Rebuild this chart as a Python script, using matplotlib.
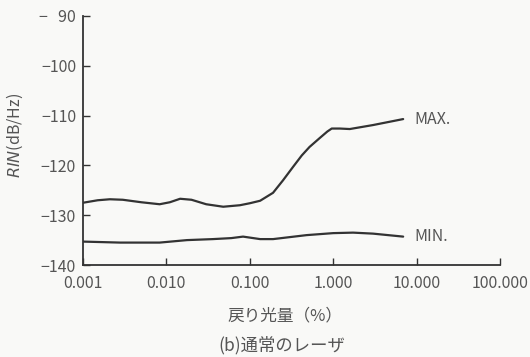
import matplotlib.pyplot as plt
import numpy as np

plt.rcParams['font.family'] = ['Noto Sans CJK JP', 'DejaVu Sans']

# 戻り光量 (%) と RIN (dB/Hz)
max_x = [0.001, 0.0015, 0.0021, 0.003, 0.005, 0.0083, 0.011, 0.0146, 0.02, 0.03,
         0.048, 0.076, 0.1, 0.133, 0.19, 0.25, 0.33, 0.42, 0.52, 0.69, 0.85,
         0.96, 1.2, 1.58, 3.0, 6.9]
max_rin = [-127.5, -127.0, -126.8, -126.9, -127.4, -127.8, -127.4, -126.7, -126.9, -127.8,
           -128.3, -128.0, -127.6, -127.1, -125.5, -123.0, -120.3, -118.0, -116.3, -114.5, -113.2,
           -112.6, -112.6, -112.7, -111.9, -110.7]

min_x = [0.001, 0.0028, 0.0083, 0.0177, 0.036, 0.06, 0.083, 0.133, 0.19, 0.48,
         1.0, 1.73, 3.0, 6.9]
min_rin = [-135.3, -135.5, -135.5, -135.0, -134.8, -134.6, -134.3, -134.8, -134.8, -134.0,
           -133.6, -133.5, -133.7, -134.3]

x_ticks = [0.001, 0.01, 0.1, 1, 10, 100]
x_labels = ['0.001', '0.010', '0.100', '1.000', '10.000', '100.000']
y_ticks = [-140, -130, -120, -110, -100, -90]
y_labels = ['−140', '−130', '−120', '−110', '−100', '−\u200790']

txt = '#555555'
line = '#333333'

fig = plt.figure(figsize=(5.3, 3.57), dpi=100, facecolor='#f9f9f7')
ax = fig.add_axes([0.1566, 0.2577, 0.7868, 0.6975])
ax.set_facecolor('#f9f9f7')

ax.plot(max_x, max_rin, color=line, lw=1.6, solid_capstyle='round', solid_joinstyle='round')
ax.plot(min_x, min_rin, color=line, lw=1.6, solid_capstyle='round', solid_joinstyle='round')

ax.text(9.5, max_rin[-1], 'MAX.', color=txt, fontsize=11.5, va='center', ha='left')
ax.text(9.5, min_rin[-1], 'MIN.', color=txt, fontsize=11.5, va='center', ha='left')

ax.set_xscale('log')
ax.set_xlim(0.001, 100)
ax.set_ylim(-140, -90)
ax.set_xticks(x_ticks)
ax.set_xticklabels(x_labels)
ax.xaxis.set_minor_locator(plt.NullLocator())
ax.set_yticks(y_ticks)
ax.set_yticklabels(y_labels)

ax.tick_params(direction='in', length=5, width=1, color=line, labelcolor=txt,
               labelsize=11.5, pad=5)
ax.tick_params(axis='x', pad=7)

for side in ['top', 'right']:
    ax.spines[side].set_visible(False)
for side in ['left', 'bottom']:
    ax.spines[side].set_color(line)
    ax.spines[side].set_linewidth(1.3)

ax.set_ylabel('$\\it{RIN}$(dB/Hz)', color=txt, fontsize=11.5)
ax.yaxis.set_label_coords(-0.138, 0.52)
ax.set_xlabel('戻り光量（%）', color=txt, fontsize=12)
ax.xaxis.set_label_coords(0.484, -0.17)

fig.text(0.532, 0.034, '(b)通常のレーザ', color=txt, fontsize=12.5, ha='center', va='center')

fig.savefig('out.png', dpi=100, facecolor=fig.get_facecolor())
